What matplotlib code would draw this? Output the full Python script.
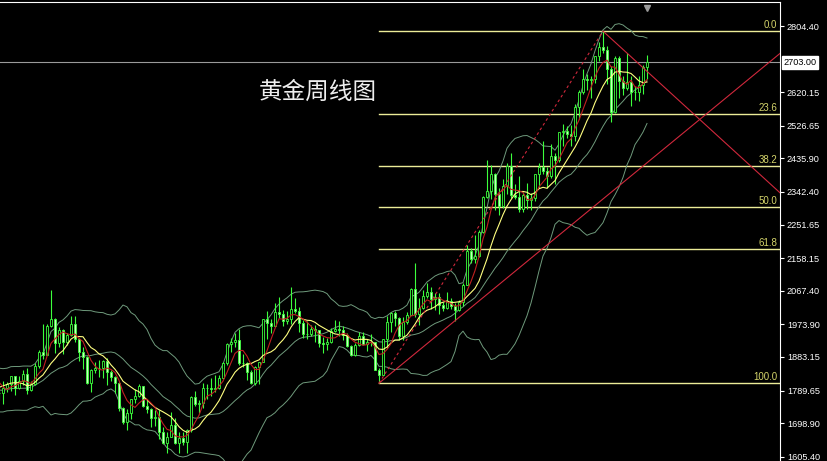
import matplotlib
matplotlib.use('Agg')
import matplotlib.pyplot as plt
import numpy as np
import pandas as pd
from matplotlib.transforms import blended_transform_factory

# ---- data: weekly gold candles, week of 2021-12-06 .. 2025-01-13 ----
history_closes = [1813, 1763, 1780, 1781, 1818, 1827, 1788, 1754, 1750, 1761,
                  1757, 1768, 1793, 1783, 1818, 1865, 1846, 1788, 1783]

opens = [1783, 1783, 1798, 1808,
         1829, 1797, 1817, 1835, 1791, 1807, 1859, 1898, 1889, 1970, 1989, 1921, 1958,
         1925, 1945, 1974, 1932, 1896, 1883, 1811, 1846, 1853, 1851, 1871, 1840, 1827,
         1811, 1742, 1703, 1727, 1766, 1775, 1802, 1747, 1738, 1712, 1716, 1675, 1644,
         1661, 1695, 1644, 1658, 1645, 1681, 1771, 1751, 1755, 1797, 1797, 1793, 1798,
         1824, 1866, 1920, 1926, 1929, 1865, 1865, 1842, 1811, 1856, 1868, 1989, 1978,
         1969, 2007, 2004, 1983, 1990, 2017, 2011, 1977, 1946, 1948, 1961, 1958, 1921,
         1919, 1925, 1955, 1962, 1959, 1943, 1914, 1889, 1915, 1940, 1919, 1924, 1925,
         1848, 1833, 1932, 1981, 2006, 1992, 1940, 1981, 2001, 2072, 2004, 2019, 2053,
         2063, 2045, 2049, 2029, 2018, 2039, 2024, 2013, 2035, 2083, 2179, 2155, 2165,
         2230, 2329, 2344, 2392, 2337, 2302, 2360, 2415, 2334, 2327, 2294, 2333, 2321,
         2326, 2392, 2411, 2401, 2387, 2443, 2431, 2508, 2512, 2503, 2497, 2578, 2622,
         2658, 2653, 2657, 2721, 2747, 2737, 2685, 2564, 2715, 2650, 2633, 2648, 2622,
         2621, 2639, 2690]
highs = [1793, 1815, 1812, 1831,
         1831, 1830, 1848, 1853, 1815, 1865, 1902, 1974, 1974, 2070, 1992, 1966, 1960,
         1949, 1998, 1998, 1936, 1910, 1885, 1849, 1870, 1874, 1875, 1879, 1847, 1830,
         1814, 1745, 1739, 1767, 1795, 1807, 1802, 1765, 1740, 1735, 1735, 1688, 1675,
         1730, 1714, 1675, 1675, 1682, 1773, 1787, 1764, 1810, 1808, 1824, 1833, 1833,
         1870, 1922, 1937, 1949, 1960, 1890, 1870, 1846, 1858, 1870, 1990, 2010, 1988,
         2032, 2049, 2015, 2010, 2079, 2048, 2022, 1985, 1983, 1972, 1971, 1959, 1938,
         1935, 1964, 1987, 1983, 1970, 1949, 1916, 1923, 1953, 1953, 1932, 1947, 1926,
         1853, 1933, 1997, 2009, 2010, 1994, 1993, 2008, 2075, 2146, 2047, 2070, 2088,
         2079, 2062, 2060, 2036, 2065, 2048, 2033, 2041, 2088, 2195, 2185, 2223, 2236,
         2330, 2431, 2418, 2395, 2353, 2378, 2422, 2450, 2364, 2388, 2342, 2368, 2339,
         2393, 2424, 2484, 2412, 2477, 2450, 2509, 2531, 2525, 2529, 2586, 2625, 2686,
         2671, 2666, 2722, 2759, 2790, 2750, 2693, 2721, 2721, 2665, 2729, 2664, 2638,
         2665, 2697, 2725]
lows = [1762, 1753, 1785, 1789,
        1778, 1794, 1805, 1780, 1788, 1806, 1851, 1878, 1888, 1967, 1895, 1910, 1890,
        1915, 1940, 1924, 1872, 1850, 1807, 1786, 1838, 1828, 1825, 1805, 1816, 1784,
        1732, 1697, 1681, 1711, 1754, 1772, 1745, 1727, 1688, 1690, 1654, 1640, 1615,
        1660, 1640, 1617, 1638, 1616, 1673, 1747, 1727, 1740, 1766, 1773, 1785, 1795,
        1822, 1861, 1896, 1911, 1861, 1855, 1818, 1809, 1805, 1809, 1868, 1934, 1950,
        1968, 1992, 1969, 1975, 1976, 2005, 1952, 1937, 1932, 1940, 1925, 1910, 1893,
        1902, 1922, 1952, 1942, 1930, 1912, 1885, 1885, 1914, 1915, 1901, 1913, 1846,
        1810, 1833, 1909, 1953, 1970, 1931, 1930, 1976, 1999, 1994, 1973, 2016, 2047,
        2016, 2013, 2002, 2010, 2016, 2016, 1984, 2010, 2024, 2083, 2146, 2146, 2160,
        2228, 2325, 2324, 2291, 2277, 2298, 2337, 2325, 2323, 2287, 2286, 2295, 2293,
        2318, 2353, 2393, 2353, 2382, 2364, 2425, 2470, 2492, 2471, 2484, 2546, 2615,
        2625, 2603, 2645, 2708, 2730, 2643, 2537, 2563, 2605, 2613, 2627, 2583, 2599,
        2596, 2614, 2656]
closes = [1783, 1798, 1808, 1829,
          1797, 1817, 1835, 1791, 1807, 1859, 1898, 1889, 1970, 1989, 1921, 1958, 1925,
          1945, 1974, 1932, 1896, 1883, 1811, 1846, 1853, 1851, 1871, 1840, 1827, 1811,
          1742, 1703, 1727, 1766, 1775, 1802, 1747, 1738, 1712, 1716, 1675, 1644, 1661,
          1695, 1644, 1658, 1645, 1681, 1771, 1751, 1755, 1797, 1797, 1793, 1798, 1824,
          1866, 1920, 1926, 1929, 1865, 1865, 1842, 1811, 1856, 1868, 1989, 1978, 1969,
          2007, 2004, 1983, 1990, 2017, 2011, 1977, 1946, 1948, 1961, 1958, 1921, 1919,
          1925, 1955, 1962, 1959, 1943, 1914, 1889, 1915, 1940, 1919, 1924, 1925, 1848,
          1833, 1932, 1981, 2006, 1992, 1940, 1981, 2001, 2072, 2004, 2019, 2053, 2063,
          2045, 2049, 2029, 2018, 2039, 2024, 2013, 2035, 2083, 2179, 2155, 2165, 2230,
          2329, 2344, 2392, 2337, 2302, 2360, 2415, 2334, 2327, 2294, 2333, 2321, 2326,
          2392, 2411, 2401, 2387, 2443, 2431, 2508, 2512, 2503, 2497, 2578, 2622, 2658,
          2653, 2657, 2721, 2747, 2737, 2685, 2564, 2715, 2650, 2633, 2648, 2622, 2621,
          2639, 2690, 2703]

current_price = 2703.00
fib_levels = [0.0, 23.6, 38.2, 50.0, 61.8, 100.0]
fib_low_week = 95     # week of 2023-10-02 (swing low)
trend_low_week = 114  # week of 2024-02-12 (second low on the up trend line)
trend_high_week = 157 # week of 2024-12-09 (second high on the down trend line)
tick_values = [2804.40, 2620.15, 2526.65, 2435.90, 2342.40, 2251.65, 2158.15,
               2067.40, 1973.90, 1883.15, 1789.65, 1698.90, 1605.40]
tick_labels = ["2804.40", "2620.15", "2526.65", "2435.90", "2342.40", "2251.65",
               "2158.15", "2067.40", "1973.90", "1883.15", "1789.65", "1698.90",
               "1605.40"]
title_text = "黄金周线图"

# ---- figure ----
W, H = 828, 461
fig = plt.figure(figsize=(W / 100, H / 100), dpi=100, facecolor='black')
ax = fig.add_axes([0, 0, 780 / W, 459 / H])
ax.set_facecolor('black')

n = len(closes)
x = np.arange(n)
o = np.array(opens, float); h = np.array(highs, float)
l = np.array(lows, float); c = np.array(closes, float)

# indicators
full = pd.Series(history_closes + closes, dtype=float)
xf = np.arange(-len(history_closes), n)
ma5 = full.rolling(5).mean()
ma10 = full.rolling(10).mean()
mid = full.rolling(20).mean()
sd = full.rolling(20).std(ddof=0)
band_col = '#6f9a7c'
for s in (mid + 2 * sd, mid, mid - 2 * sd):
    ax.plot(xf, s, color=band_col, lw=0.7, zorder=2)

# fibonacci
i_lo = fib_low_week
i_hi = int(np.argmax(h))
p_lo, p_hi = l[i_lo], h[i_hi]
x_right = 195.25
for lv in fib_levels:
    p = p_hi - (p_hi - p_lo) * lv / 100.0
    ax.plot([i_lo, x_right], [p, p], color='#ecec98', lw=1.0, zorder=1)
    ax.text(x_right - 0.7, p + 3, f"{lv:.1f}", color='#d4d46a', fontsize=7,
            family='Liberation Sans', ha='right', va='bottom', zorder=6)

# current price line
ax.axhline(current_price, color='#9a9a9a', lw=0.8, zorder=1)

# candles
edge = '#3cff3c'
ax.vlines(x, l, h, color=edge, lw=0.8, zorder=3)
up = c >= o
bw = 0.7
ax.bar(x[up], (c - o)[up], bottom=o[up], width=bw, color='black',
       edgecolor=edge, linewidth=0.6, zorder=4)
ax.bar(x[~up], (o - c)[~up], bottom=c[~up], width=bw, color='#c8ffc0',
       edgecolor=edge, linewidth=0.6, zorder=4)

# moving averages
ax.plot(xf, ma10, color='#ffff80', lw=0.8, zorder=5)
ax.plot(xf, ma5, color='#c02020', lw=0.8, zorder=5)

# trend lines
red = '#d0283c'
slope_up = (l[trend_low_week] - p_lo) / (trend_low_week - i_lo)
ax.plot([i_lo, x_right], [p_lo, p_lo + slope_up * (x_right - i_lo)], color=red, lw=0.8, zorder=5)
slope_dn = (h[trend_high_week] - p_hi) / (trend_high_week - i_hi)
ax.plot([i_hi, x_right], [p_hi, p_hi + slope_dn * (x_right - i_hi)], color=red, lw=0.8, zorder=5)
ax.plot([i_lo, i_hi], [p_lo, p_hi], color=red, lw=0.8, ls=(0, (2.5, 2.5)), zorder=5)

# title
ax.text(318 / 780, (461 - 92) / 459, title_text, transform=ax.transAxes,
        color='#eeeeee', fontsize=17, family=['Noto Sans CJK SC', 'DejaVu Sans'],
        ha='center', va='center', zorder=7)

# shift marker
tr = blended_transform_factory(ax.transData, ax.transAxes)
ax.plot([n - 1], [0.988], marker='v', color='#9a9a9a', ms=5, transform=tr,
        clip_on=False, zorder=7)

# axes
top_p = 2804.4 + 24 * 2.7839
bot_p = 2804.4 - (461 - 26) * 2.7839
ax.set_ylim(bot_p, top_p)
ax.set_xlim(0.25, x_right)
ax.yaxis.tick_right()
ax.set_yticks(tick_values)
ax.set_yticklabels(tick_labels)
ax.tick_params(axis='y', colors='white', direction='out', length=3, width=0.8, pad=2,
               labelsize=6.6)
for lab in ax.get_yticklabels():
    lab.set_family('Liberation Sans')
ax.set_xticks([])
for side in ('left', 'bottom'):
    ax.spines[side].set_visible(False)
ax.spines['right'].set_color('white')
ax.spines['top'].set_color('white')
ax.spines['right'].set_linewidth(0.8)
ax.spines['top'].set_linewidth(0.8)

# current price box
ax.annotate(f"{current_price:.2f}", xy=(1, current_price),
            xycoords=('axes fraction', 'data'), xytext=(2.5, 0),
            textcoords='offset points', va='center', ha='left', color='black',
            fontsize=6.6, family='Liberation Sans', annotation_clip=False,
            bbox=dict(boxstyle='square,pad=0.2', fc='white', ec='white'), zorder=8)

fig.savefig('out.png', dpi=100, facecolor='black')
